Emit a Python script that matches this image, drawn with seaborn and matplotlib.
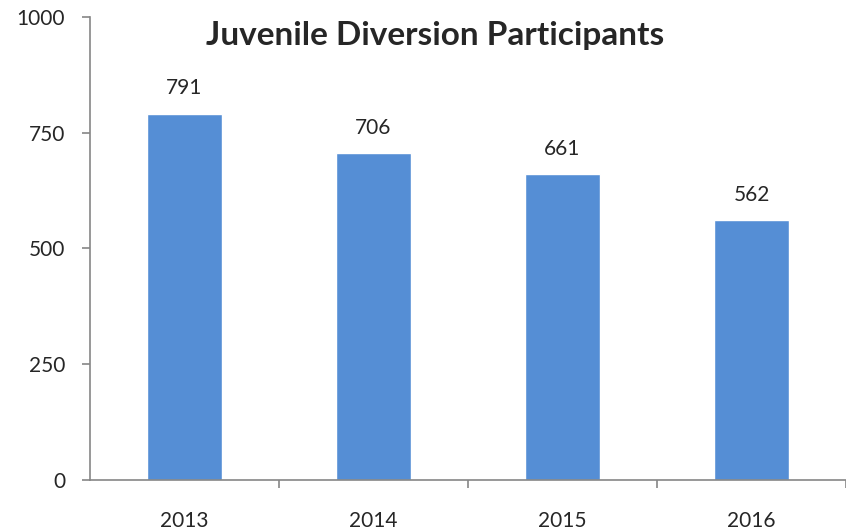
import numpy as np
import pandas as pd
import seaborn as sns
from matplotlib import pyplot as plt

years = ['2013', '2014', '2015', '2016']
participants = [791, 706, 661, 562]

df = pd.DataFrame({'Year': years, 'Participants': participants})

sns.set_style('white')
plt.rcParams['font.family'] = ['Lato', 'DejaVu Sans']

fig = plt.figure(figsize=(8.46, 5.29), dpi=100)
ax = fig.add_axes([0.1064, 0.0926, 0.8936, 0.8753])

sns.barplot(data=df, x='Year', y='Participants', color='#558ed5', width=0.4,
            saturation=1, ax=ax)

for i, v in enumerate(participants):
    ax.annotate(str(v), (i, v), xytext=(0, 11), textcoords='offset points',
                ha='center', va='bottom', fontsize=15)

ax.set_ylim(0, 1000)
ax.set_xlim(-0.5, 3.5)
ax.set_yticks([0, 250, 500, 750, 1000])
ax.set_xlabel('')
ax.set_ylabel('')

# ticks at category boundaries, labels at centers
ax.set_xticks([0.5, 1.5, 2.5, 3.5], minor=True)
ax.tick_params(axis='x', which='major', length=0, pad=22, labelsize=15)
ax.tick_params(axis='x', which='minor', length=6, width=1.2, color='#868686', direction='out')
ax.tick_params(axis='y', which='major', length=6, width=1.2, color='#868686', direction='out',
               pad=12, labelsize=15, left=True)
ax.tick_params(axis='x', bottom=True, which='minor')

for s in ['top', 'right']:
    ax.spines[s].set_visible(False)
for s in ['left', 'bottom']:
    ax.spines[s].set_color('#868686')
    ax.spines[s].set_linewidth(1.2)

fig.text(0.514, 0.933, 'Juvenile Diversion Participants', ha='center', va='center',
         fontsize=24, fontweight='bold')

plt.savefig('out.png', dpi=100)
